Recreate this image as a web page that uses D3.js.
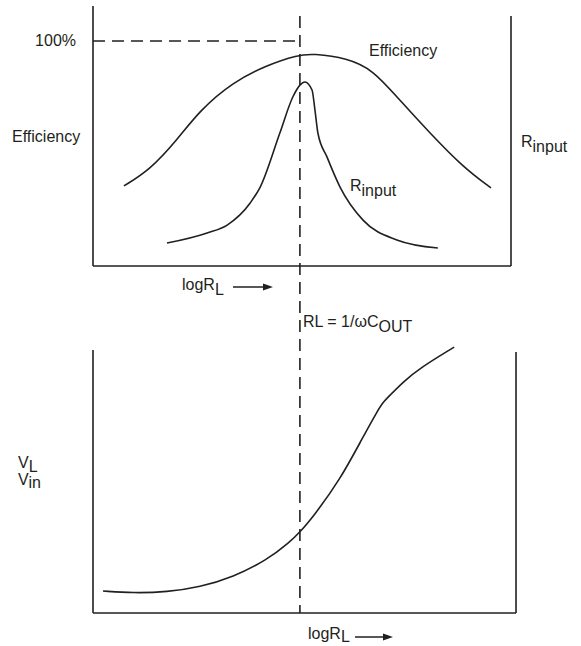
<!DOCTYPE html>
<html>
<head>
<meta charset="utf-8">
<script src="https://cdn.jsdelivr.net/npm/d3@7"></script>
<style>
  html, body { margin: 0; padding: 0; background: #fff; }
  svg text { font-family: "Liberation Sans", Arial, Helvetica, sans-serif; font-size: 16px; fill: #231f20; }
</style>
</head>
<body>
<svg id="chart" width="581" height="646"></svg>
<script>
// ---- Data (x in log R_L units, y in relative % of full scale) ----
const cutoffX = 4.95;            // RL = 1/ωC_OUT
const fullScale = 100;           // 100 %

const effX = [0.74, 1.36, 2.01, 2.56, 3.35, 4.16, 4.90, 5.26, 6.08, 6.70, 7.27, 8.06, 8.85, 9.52];
const effY = [35.6, 42.7, 56.0, 69.3, 81.8, 89.3, 93.8, 94.4, 92.4, 87.1, 75.1, 59.1, 44.0, 34.7];

const rinX = [1.77, 2.73, 3.21, 3.76, 4.00, 4.47, 4.78, 4.95, 5.07, 5.24, 5.31, 5.38, 5.60, 5.91, 6.46, 7.27, 8.25];
const rinY = [10.2, 14.7, 18.2, 28.0, 35.1, 59.1, 75.1, 80.4, 81.8, 78.2, 69.3, 59.1, 48.4, 35.1, 20.4, 11.6, 8.0];

const vX = [0.24, 0.96, 1.77, 2.56, 3.35, 4.16, 4.71, 4.95, 5.26, 5.91, 6.46, 6.79, 6.94, 7.11, 7.42, 7.82, 8.64];
const vY = [8.4, 7.6, 8.0, 9.9, 13.7, 20.2, 27.1, 30.9, 36.6, 50.8, 67.2, 76.7, 80.5, 83.2, 88.2, 93.5, 101.5];

// ---- Layout ----
const ink = "#231f20";
const svg = d3.select("#chart");

const x = d3.scaleLinear().domain([0, 10]).range([93, 511]);
const yTop = d3.scaleLinear().domain([0, 100]).range([266, 41]);
const yBot = d3.scaleLinear().domain([0, 100]).range([613, 351]);

function drawLine(g, x1, y1, x2, y2, dash) {
  const l = g.append("line").attr("x1", x1).attr("y1", y1).attr("x2", x2).attr("y2", y2)
    .attr("stroke", ink).attr("stroke-width", 1.6);
  if (dash) l.attr("stroke-dasharray", dash);
  return l;
}

// Top panel frame
drawLine(svg, x(0), yTop(115.6), x(0), yTop(0));
drawLine(svg, x(0), yTop(0), x(10), yTop(0));
drawLine(svg, x(10), yTop(111.1), x(10), yTop(0));

// Bottom panel frame
drawLine(svg, x(0), yBot(100.4), x(0), yBot(0));
drawLine(svg, x(0), yBot(0), x(10.12), yBot(0));
drawLine(svg, x(10.12), yBot(99.6), x(10.12), yBot(0));

// Dashed guides
drawLine(svg, x(cutoffX), yTop(111.1), x(cutoffX), yBot(0), "12,7");
drawLine(svg, x(0), yTop(fullScale), x(cutoffX), yTop(fullScale), "12,7");

// Curves
function curve(xs, ys, yScale, c) {
  const pts = xs.map((v, i) => [x(v), yScale(ys[i])]);
  svg.append("path")
    .attr("d", d3.line().curve(c)(pts))
    .attr("fill", "none").attr("stroke", ink).attr("stroke-width", 1.6);
}
curve(effX, effY, yTop, d3.curveBasis);
curve(rinX, rinY, yTop, d3.curveMonotoneX);
curve(vX, vY, yBot, d3.curveBasis);

// Text helpers
function label(xp, yp, main, sub, subDy) {
  const t = svg.append("text").attr("x", xp).attr("y", yp);
  t.append("tspan").text(main);
  if (sub) t.append("tspan").attr("dy", subDy).text(sub);
  return t;
}
function arrow(x1, x2, yp) {
  drawLine(svg, x1, yp, x2 - 8, yp).attr("stroke-width", 1.5);
  svg.append("path").attr("d", `M${x2},${yp} L${x2 - 10},${yp - 3.5} L${x2 - 10},${yp + 3.5} Z`).attr("fill", ink);
}

svg.append("text").attr("x", 76).attr("y", 46).attr("text-anchor", "end").text("100%");
svg.append("text").attr("x", 12).attr("y", 142).text("Efficiency");
svg.append("text").attr("x", 369).attr("y", 56).text("Efficiency");
label(521, 147, "R", "input", 5);
label(350, 191, "R", "input", 5);
label(182, 290, "logR", "L", 5);
arrow(233, 273, 287);
label(303, 327, "RL = 1/\u03C9C", "OUT", 5);
label(18, 468, "V", "L", 4);
label(18, 485, "V", "in", 3);
label(308, 639, "logR", "L", 3);
arrow(355, 393, 637);
</script>
</body>
</html>
